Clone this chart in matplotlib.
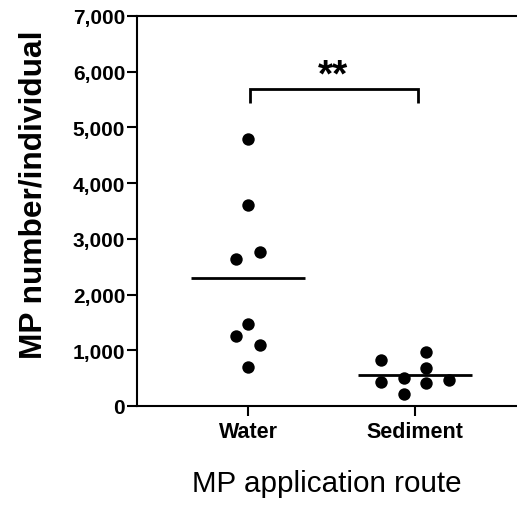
import matplotlib
matplotlib.use("Agg")
import matplotlib.pyplot as plt
import numpy as np

plt.rcParams['font.family'] = ['Liberation Sans', 'DejaVu Sans']

categories = ["Water", "Sediment"]
water_values = [4800, 3600, 2640, 2760, 1470, 1260, 1100, 700]
water_offsets = [0, 0, -1, 1, 0, -1, 1, 0]
sediment_values = [830, 965, 675, 435, 495, 405, 465, 215]
sediment_offsets = [-3, 1, 1, -3, -1, 1, 3, -1]
significance = "**"
y_ticks = [0, 1000, 2000, 3000, 4000, 5000, 6000, 7000]
y_label = "MP number/individual"
x_label = "MP application route"

fig = plt.figure(figsize=(5.17, 5.06), dpi=100)
ax = fig.add_axes([0.265, 0.1957, 0.735, 0.7708])

groups = [water_values, sediment_values]
offs = [water_offsets, sediment_offsets]
steps = [0.072, 0.068]
for i, (vals, off) in enumerate(zip(groups, offs)):
    xs = i + np.array(off) * steps[i]
    ax.scatter(xs, vals, s=80, color='black', zorder=3, linewidths=0)
    m = np.mean(vals)
    ax.plot([i - 0.34, i + 0.34], [m, m], color='black', lw=2.0, solid_capstyle='butt', zorder=2)

# significance bracket
yb = 5690
ax.plot([0.01, 0.01, 1.02, 1.02], [5440, yb, yb, 5440], color='black', lw=2.0,
        solid_joinstyle='miter', solid_capstyle='butt')
ax.text(0.51, 5750, significance, ha='center', va='baseline', fontsize=28, fontweight='bold')

ax.set_xlim(-0.665, 1.611)
ax.set_ylim(0, 7000)
ax.set_xticks([0, 1])
ax.set_xticklabels(categories, fontsize=15.5, fontweight='bold')
ax.set_yticks(y_ticks)
ax.set_yticklabels([f"{v:,}" for v in y_ticks], fontsize=15, fontweight='bold')
ax.tick_params(axis='y', length=7, width=1.5, pad=1.5)
ax.tick_params(axis='x', length=7, width=1.5, pad=4)
for s in ['left', 'bottom', 'top']:
    ax.spines[s].set_linewidth(1.5)
ax.spines['right'].set_visible(False)
ax.set_ylabel(y_label, fontsize=22.8, fontweight='bold')
ax.yaxis.set_label_coords(-0.233, 0.5436)
ax.set_xlabel(x_label, fontsize=21.3, labelpad=19)

fig.savefig("out.png", dpi=100)
